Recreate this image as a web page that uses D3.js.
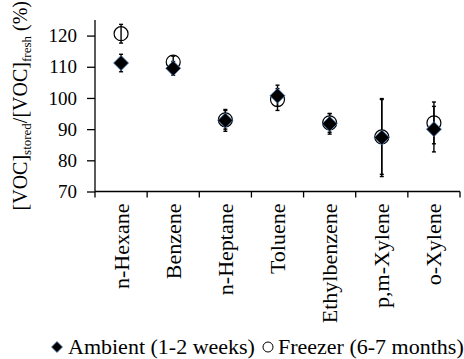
<!DOCTYPE html>
<html>
<head>
<meta charset="utf-8">
<script src="https://cdn.jsdelivr.net/npm/d3@7"></script>
<style>
  body { margin: 0; background: #fff; }
  svg { display: block; }
  svg text { font-family: "Liberation Serif", "Times New Roman", serif; }
</style>
</head>
<body>
<svg id="chart"></svg>
<script>
// values
const categories = ["n-Hexane", "Benzene", "n-Heptane", "Toluene", "Ethylbenzene", "p,m-Xylene", "o-Xylene"]
const ambient = [111.2, 109.5, 92.8, 100.7, 91.7, 87.3, 90.0]
const ambientErr = [2.8, 2.2, 3.5, 3.4, 3.3, 12.5, 7.3]
const freezer = [120.6, 111.5, 93.0, 99.5, 92.0, 87.5, 92.0]
const freezerErr = [3.0, 1.9, 3.0, 3.5, 3.0, 12.0, 6.7]
const yTicks = [70, 80, 90, 100, 110, 120]
const legendLabels = ["Ambient (1-2 weeks)", "Freezer (6-7 months)"]

const width = 464
const height = 359
const serif = "Liberation Serif"

const svg = d3.select("#chart")
  .attr("width", width)
  .attr("height", height)

const x = d3.scaleBand()
  .domain(categories)
  .range([95, 460])

const y = d3.scaleLinear()
  .domain([70, 125])
  .range([191.5, 20])

// y axis
const yAxis = svg.append("g")
  .attr("transform", `translate(${x.range()[0]},0)`)
  .call(d3.axisLeft(y).tickValues(yTicks).tickSize(8).tickPadding(10))
  .attr("font-family", serif)
  .attr("font-size", 19)
yAxis.select(".domain").attr("stroke", "#000").attr("stroke-width", 1.3)
  .attr("d", `M0,${y(125)}V${y(70)}`)
yAxis.selectAll(".tick line").attr("stroke", "#000").attr("stroke-width", 1.3)
yAxis.selectAll(".tick text").attr("fill", "#000")

// x axis, ticks at band edges
const xAxis = svg.append("g")
  .attr("transform", `translate(0,${y(70)})`)
  .attr("font-family", serif)
xAxis.append("line")
  .attr("x1", x.range()[0]).attr("x2", x.range()[1])
  .attr("stroke", "#000").attr("stroke-width", 1.3)
const edges = categories.map(c => x(c)).concat([x.range()[1]])
xAxis.selectAll(".edge")
  .data(edges)
  .join("line")
  .attr("class", "edge")
  .attr("x1", d => d).attr("x2", d => d)
  .attr("y1", 0).attr("y2", 6)
  .attr("stroke", "#000").attr("stroke-width", 1.3)
xAxis.selectAll(".cat")
  .data(categories)
  .join("text")
  .attr("class", "cat")
  .attr("transform", d => `translate(${x(d) + x.bandwidth() / 2},12) rotate(-90)`)
  .attr("text-anchor", "end")
  .attr("dy", "0.34em")
  .attr("font-size", 22)
  .attr("fill", "#000")
  .text(d => d)

// y title
const title = svg.append("text")
  .attr("transform", `translate(27,${(y(125) + y(70)) / 2}) rotate(-90)`)
  .attr("text-anchor", "middle")
  .attr("font-family", serif)
  .attr("font-size", 20)
  .attr("fill", "#000")
title.append("tspan").text("[VOC]")
title.append("tspan").attr("font-size", 13).attr("dy", 4).text("stored")
title.append("tspan").attr("dy", -4).text("/[VOC]")
title.append("tspan").attr("font-size", 13).attr("dy", 4).text("fresh")
title.append("tspan").attr("dy", -4).text(" (%)")

const cx = i => x(categories[i]) + x.bandwidth() / 2

const drawErr = (vals, errs, cls) => {
  const g = svg.append("g").attr("class", cls)
    .attr("stroke", "#000").attr("stroke-width", 1.4)
  vals.forEach((v, i) => {
    const x0 = cx(i)
    const top = y(v + errs[i])
    const bot = y(v - errs[i])
    g.append("line").attr("x1", x0).attr("x2", x0).attr("y1", top).attr("y2", bot)
    g.append("line").attr("x1", x0 - 2).attr("x2", x0 + 2).attr("y1", top).attr("y2", top)
    g.append("line").attr("x1", x0 - 2).attr("x2", x0 + 2).attr("y1", bot).attr("y2", bot)
  })
}

const diamond = r => `M0,${-r}L${r},0L0,${r}L${-r},0Z`

// freezer first, ambient on top
drawErr(freezer, freezerErr, "err-freezer")
svg.append("g")
  .selectAll("circle")
  .data(freezer)
  .join("circle")
  .attr("cx", (d, i) => cx(i))
  .attr("cy", d => y(d))
  .attr("r", 7)
  .attr("fill", "none")
  .attr("stroke", "#000")
  .attr("stroke-width", 1.2)

drawErr(ambient, ambientErr, "err-ambient")
svg.append("g")
  .selectAll("path")
  .data(ambient)
  .join("path")
  .attr("transform", (d, i) => `translate(${cx(i)},${y(d)})`)
  .attr("d", diamond(7.5))
  .attr("fill", "#000")
  .attr("stroke", "#4a7ebb")
  .attr("stroke-width", 0.8)

// legend
const legend = svg.append("g")
  .attr("font-family", serif)
  .attr("font-size", 22)
  .attr("fill", "#000")
legend.append("path")
  .attr("transform", "translate(57,347)")
  .attr("d", diamond(5.5))
  .attr("fill", "#000")
  .attr("stroke", "#4a7ebb")
  .attr("stroke-width", 0.8)
legend.append("text").attr("x", 68).attr("y", 354).text(legendLabels[0])
legend.append("circle")
  .attr("cx", 268).attr("cy", 347).attr("r", 5)
  .attr("fill", "none").attr("stroke", "#000").attr("stroke-width", 1)
legend.append("text").attr("x", 278).attr("y", 354).text(legendLabels[1])
</script>
</body>
</html>
